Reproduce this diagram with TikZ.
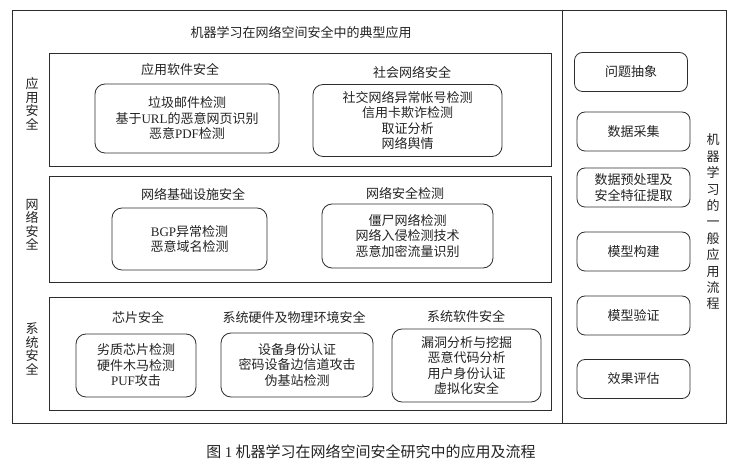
\documentclass[tikz,border=0pt]{standalone}
\usepackage{fontspec}
\setmainfont{Noto Sans CJK SC}
\newfontfamily\latinfont{Liberation Serif}
\usepackage{tikz}
\usetikzlibrary{positioning}
\definecolor{inkgray}{RGB}{35,35,35}
\definecolor{linegray}{RGB}{45,45,45}

\begin{document}
\begin{tikzpicture}[
      x=1pt, y=-1pt,
      font=\fontsize{13}{15.5}\selectfont,
      text=inkgray,
      area/.style={draw=linegray, line width=1pt, minimum width=502pt, inner sep=0pt},
      item/.style={draw=linegray, line width=0.8pt, rounded corners=10pt, align=center, inner sep=0pt},
      stage/.style={draw=linegray, line width=0.8pt, rounded corners=8pt, align=center,
        minimum width=113pt, minimum height=39pt, inner sep=0pt},
      head/.style={inner sep=1pt},
      side/.style={align=center, inner sep=0pt, font=\fontsize{13}{13.5}\selectfont},
      flowlbl/.style={align=center, inner sep=0pt, font=\fontsize{13}{16.4}\selectfont}
    ]
    \useasboundingbox (0,0) rectangle (739,470);

    % outer frame and divider
    \node[draw=linegray, line width=0.8pt, minimum width=714pt, minimum height=413pt, inner sep=0pt] (frame) at (369,216.5) {};
    \coordinate (split) at (562,0);
    \draw[linegray, line width=0.8pt] (frame.north -| split) -- (frame.south -| split);

    \node[head] (title) at (301,33) {机器学习在网络空间安全中的典型应用};

    % application security
    \node[area, minimum height=113pt] (appsec) at (300,110.5) {};
    \node[side] (applbl) at (32,104) {应\\用\\安\\全};
    \node[head] (softhd) at (180,70) {应用软件安全};
    \node[item, minimum width=184pt, minimum height=69pt] (soft) at (187,118.5)
      {垃圾邮件检测\\基于{\latinfont URL}的恶意网页识别\\恶意{\latinfont PDF}检测};
    \node[head] (socialhd) at (412,72) {社会网络安全};
    \node[item, minimum width=189pt, minimum height=72pt] (social) at (407.5,120.5)
      {社交网络异常帐号检测\\信用卡欺诈检测\\取证分析\\网络舆情};

    % network security
    \node[area, minimum height=106pt] (netsec) at (300,230) {};
    \node[side] (netlbl) at (32,225) {网\\络\\安\\全};
    \node[head] (infrahd) at (193,194) {网络基础设施安全};
    \node[item, minimum width=155pt, minimum height=62pt] (infra) at (189.5,239)
      {{\latinfont BGP}异常检测\\恶意域名检测};
    \node[head] (detecthd) at (405,193) {网络安全检测};
    \node[item, minimum width=171pt, minimum height=64pt] (detect) at (407.5,236)
      {僵尸网络检测\\网络入侵检测技术\\恶意加密流量识别};

    % system security
    \node[area, minimum height=112pt] (syssec) at (300,354) {};
    \node[side] (syslbl) at (32,349) {系\\统\\安\\全};
    \node[head] (chiphd) at (138,318) {芯片安全};
    \node[item, minimum width=120pt, minimum height=63pt] (chip) at (136,365.5)
      {劣质芯片检测\\硬件木马检测\\{\latinfont PUF}攻击};
    \node[head] (hwhd) at (294,318) {系统硬件及物理环境安全};
    \node[item, minimum width=152pt, minimum height=64pt] (hw) at (297,365)
      {设备身份认证\\密码设备边信道攻击\\伪基站检测};
    \node[head] (swhd) at (466,316) {系统软件安全};
    \node[item, minimum width=149pt, minimum height=73pt] (sw) at (466.5,365.5)
      {漏洞分析与挖掘\\恶意代码分析\\用户身份认证\\虚拟化安全};

    % general flow
    \node[stage] (abstr) at (631,72) {问题抽象};
    \node[stage] (collect) at (633.5,131.5) {数据采集};
    \node[stage] (prep) at (633.5,187.5) {数据预处理及\\安全特征提取};
    \node[stage] (build) at (633.5,251.5) {模型构建};
    \node[stage] (verify) at (633.5,315.5) {模型验证};
    \node[stage] (assess) at (633.5,379) {效果评估};
    \node[flowlbl] (flowlbl) at (713,222) {机\\器\\学\\习\\的\\一\\般\\应\\用\\流\\程};

    \node[head, font=\fontsize{15}{17}\selectfont] (caption) at (371,452)
      {图~{\latinfont 1}~机器学习在网络空间安全研究中的应用及流程};
  \end{tikzpicture}
\end{document}
